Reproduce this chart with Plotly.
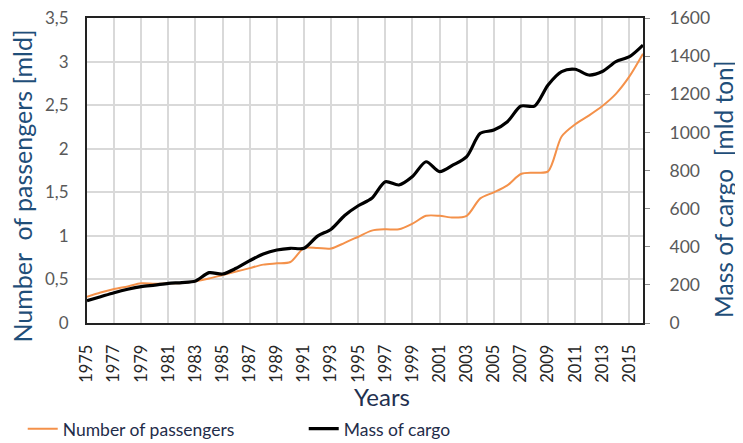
import plotly.graph_objects as go

years = list(range(1975, 2017))

passengers = [0.30, 0.35, 0.39, 0.42, 0.455, 0.45, 0.455, 0.46, 0.48, 0.51,
              0.55, 0.59, 0.63, 0.67, 0.685, 0.70, 0.86, 0.86, 0.855, 0.92,
              0.99, 1.06, 1.075, 1.075, 1.14, 1.23, 1.23, 1.21, 1.23, 1.43,
              1.50, 1.58, 1.71, 1.725, 1.74, 2.14, 2.28, 2.38, 2.49, 2.63,
              2.83, 3.09]

cargo = [117, 138, 159, 177, 191, 199, 208, 212, 220, 264,
         257, 287, 327, 362, 383, 392, 392, 456, 492, 564,
         615, 654, 741, 724, 768, 846, 794, 829, 873, 995,
         1012, 1056, 1138, 1138, 1249, 1319, 1331, 1301, 1319, 1371,
         1397, 1458]

left_ticks = [0, 0.5, 1, 1.5, 2, 2.5, 3, 3.5]
left_labels = ["0", "0,5", "1", "1,5", "2", "2,5", "3", "3,5"]
right_ticks = [0, 200, 400, 600, 800, 1000, 1200, 1400, 1600]
x_ticks = list(range(1975, 2016, 2))

FONT = "Lato"
TITLE_COLOR = "#1F4E79"

fig = go.Figure()
fig.add_trace(go.Scatter(
    x=years, y=passengers, name="Number of passengers", mode="lines",
    line=dict(color="#F4914A", width=2, shape="spline", smoothing=0.8),
    yaxis="y"))
fig.add_trace(go.Scatter(
    x=years, y=cargo, name="Mass of cargo", mode="lines",
    line=dict(color="#000000", width=3.2, shape="spline", smoothing=0.8),
    yaxis="y2"))

# the page body has an 8px margin, so the figure is made 8px smaller
fig.update_layout(
    width=735, height=435,
    margin=dict(l=79, r=100, t=10, b=120, autoexpand=False),
    plot_bgcolor="white", paper_bgcolor="white",
    font=dict(family=FONT, size=16, color="#404040"),
    showlegend=True,
    legend=dict(orientation="h", x=-0.1156, y=-0.347, xanchor="left", yanchor="middle",
                font=dict(family=FONT, size=17.5, color="#1F2D4A"),
                entrywidth=236, entrywidthmode="pixels",
                bgcolor="rgba(0,0,0,0)"),
    xaxis=dict(range=[1975, 2016], tickvals=x_ticks, tickangle=-90,
               showgrid=True, gridcolor="#D9D9D9", gridwidth=1.5,
               showline=True, linecolor="#222222", linewidth=2, mirror=True,
               ticks="", ticklabelstandoff=13, ticklabeloverflow="allow",
               tickfont=dict(family=FONT, size=16.5, color="#262626"),
               zeroline=False),
    yaxis=dict(range=[0, 3.5], tickvals=left_ticks, ticktext=left_labels,
               showgrid=True, gridcolor="#D9D9D9", gridwidth=1.5,
               showline=True, linecolor="#222222", linewidth=2, mirror=True,
               ticks="", ticklabelstandoff=13, ticklabeloverflow="allow",
               tickfont=dict(family=FONT, size=17, color="#595959"),
               zeroline=False),
    yaxis2=dict(range=[0, 1600], tickvals=right_ticks, overlaying="y", side="right",
                showgrid=False, showline=True, linecolor="#222222", linewidth=2,
                ticks="outside", ticklen=5, tickcolor="#8C8C8C", tickwidth=1,
                ticklabelstandoff=16, ticklabeloverflow="allow",
                tickfont=dict(family=FONT, size=17.5, color="#595959"),
                zeroline=False),
    annotations=[
        dict(text="Number  of passengers [mld]", xref="paper", yref="paper",
             x=-0.116, y=0.449, textangle=-90, showarrow=False,
             xanchor="center", yanchor="middle",
             font=dict(family=FONT, size=25, color=TITLE_COLOR)),
        dict(text="Mass of cargo  [mld ton]", xref="paper", yref="paper",
             x=1.1435, y=0.439, textangle=-90, showarrow=False,
             xanchor="center", yanchor="middle",
             font=dict(family=FONT, size=24.5, color=TITLE_COLOR)),
        dict(text="Years", xref="paper", yref="paper",
             x=0.5306, y=-0.2426, showarrow=False,
             xanchor="center", yanchor="middle",
             font=dict(family=FONT, size=24, color="#1F3050")),
    ],
)

fig.write_html("out.html")
